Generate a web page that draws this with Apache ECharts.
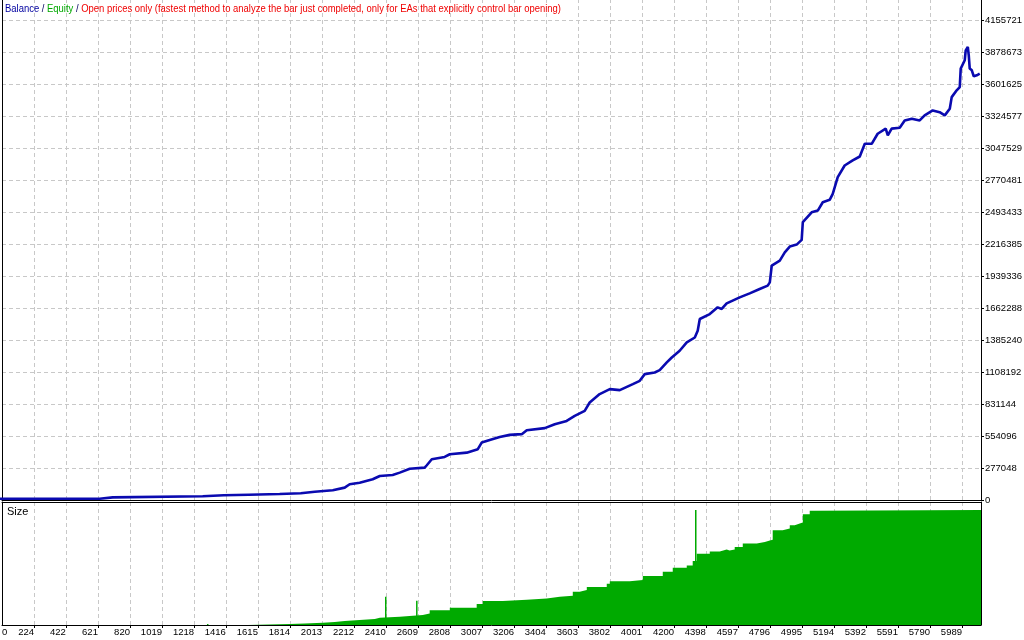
<!DOCTYPE html>
<html>
<head>
<meta charset="utf-8">
<script src="https://cdn.jsdelivr.net/npm/echarts@6/dist/echarts.min.js"></script>
<style>html,body{margin:0;padding:0;background:#fff;}#c{width:1024px;height:640px;}</style>
</head>
<body>
<div id="c"></div>
<script>
// ---- data ----
const titleParts = ['Balance', ' / ', 'Equity', ' / ', 'Open prices only (fastest method to analyze the bar just completed, only for EAs that explicitly control bar opening)'];
const panelLabel = 'Size';
const xMin = 25, xMax = 6107;
const xLeftLabel = '0';
const xTickValues = [224, 422, 621, 820, 1019, 1218, 1416, 1615, 1814, 2013, 2212, 2410, 2609, 2808, 3007, 3206, 3404, 3603, 3802, 4001, 4200, 4398, 4597, 4796, 4995, 5194, 5392, 5591, 5790, 5989];
const yTickValues = [0, 277048, 554096, 831144, 1108192, 1385240, 1662288, 1939336, 2216385, 2493433, 2770481, 3047529, 3324577, 3601625, 3878673, 4155721];
const yMax = 4337564;
const balanceX = [0, 632, 713, 1272, 1403, 1558, 1750, 1881, 1968, 2080, 2154, 2185, 2247, 2328, 2372, 2452, 2496, 2558, 2651, 2664, 2695, 2775, 2807, 2912, 2981, 3005, 3055, 3117, 3179, 3254, 3285, 3397, 3459, 3533, 3583, 3645, 3676, 3738, 3801, 3863, 3944, 3987, 4018, 4080, 4111, 4155, 4186, 4235, 4279, 4329, 4347, 4360, 4422, 4471, 4496, 4527, 4608, 4670, 4732, 4782, 4795, 4807, 4857, 4888, 4919, 4962, 4993, 5000, 5055, 5093, 5124, 5167, 5186, 5217, 5260, 5310, 5354, 5385, 5428, 5465, 5515, 5528, 5552, 5602, 5633, 5677, 5726, 5757, 5807, 5850, 5882, 5913, 5925, 5956, 5975, 5981, 6006, 6012, 6025, 6031, 6037, 6050, 6062, 6081, 6099];
const balanceY = [11000, 11000, 23000, 32000, 41000, 46000, 52000, 58000, 72000, 84000, 107000, 136000, 150000, 180000, 208000, 217000, 237000, 271000, 280000, 301000, 353000, 373000, 396000, 410000, 440000, 497000, 520000, 546000, 564000, 570000, 604000, 622000, 656000, 685000, 728000, 772000, 844000, 917000, 960000, 951000, 1003000, 1032000, 1090000, 1104000, 1125000, 1191000, 1234000, 1292000, 1364000, 1407000, 1465000, 1567000, 1610000, 1668000, 1654000, 1702000, 1754000, 1789000, 1827000, 1856000, 1884000, 2029000, 2073000, 2144000, 2194000, 2211000, 2252000, 2405000, 2491000, 2506000, 2578000, 2599000, 2651000, 2795000, 2896000, 2940000, 2974000, 3084000, 3084000, 3171000, 3215000, 3156000, 3215000, 3223000, 3286000, 3301000, 3286000, 3330000, 3373000, 3358000, 3330000, 3388000, 3488000, 3547000, 3575000, 3735000, 3807000, 3893000, 3922000, 3850000, 3735000, 3720000, 3668000, 3677000, 3691000];
const sizeX = [25, 1552, 1813, 1906, 2018, 2092, 2154, 2247, 2341, 2372, 2496, 2639, 2682, 2807, 2974, 3012, 3136, 3285, 3409, 3490, 3571, 3614, 3658, 3782, 3801, 3925, 4006, 4130, 4192, 4279, 4316, 4341, 4422, 4484, 4527, 4545, 4577, 4627, 4714, 4764, 4795, 4813, 4875, 4919, 4950, 4981, 5000, 5043, 5074, 6107];
const sizeY = [0, 0.44, 0.6, 1.0, 1.3, 1.75, 2.2, 2.6, 3.1, 3.6, 4.4, 5.0, 6.4, 7.5, 9.1, 10.4, 11.0, 11.5, 12.3, 12.7, 14.5, 15.2, 16.5, 17.9, 19.0, 19.6, 21.3, 23.2, 24.9, 25.9, 27.8, 31.0, 32.0, 32.8, 32.4, 32.8, 33.9, 35.4, 36.1, 36.8, 37.1, 41.2, 42.0, 43.4, 44.1, 44.6, 48.2, 49.7, 50, 50];
const spikeX = [1303, 2409, 2602, 4335];
const spikeY = [0.4, 12.3, 10.5, 50];
const sizeMax = 53.5;

// ---- chart ----
const FONT = "'Liberation Sans', Arial, sans-serif";
const gridLine = {show: true, lineStyle: {color: '#c8c8c8', type: [4, 3], width: 1}};
const blackLine = {show: true, onZero: false, lineStyle: {color: '#000', width: 1}};
const xLabelValues = [xMin].concat(xTickValues);
const chart = echarts.init(document.getElementById('c'), null, {renderer: 'canvas'});
const borderAxis = (extra) => Object.assign({type: 'value', min: 0, max: 1, axisLine: blackLine, axisTick: {show: false}, axisLabel: {show: false}, splitLine: {show: false}}, extra);

// title text compressed horizontally to the reference width
const titleFull = titleParts.join('');
const mctx = document.createElement('canvas').getContext('2d');
mctx.font = '11px ' + FONT;
const titleScale = 556 / mctx.measureText(titleFull).width;

const spikeData = [];
spikeX.forEach((x, i) => { spikeData.push([x, 0], [x, spikeY[i]], null); });

chart.setOption({
  animation: false,
  backgroundColor: '#fff',
  grid: [
    {left: 2, right: 43, top: -1, height: 501, outerBoundsMode: 'none', containLabel: false},
    {left: 2, right: 43, top: 502, height: 123, outerBoundsMode: 'none', containLabel: false}
  ],
  xAxis: [
    {gridIndex: 0, type: 'value', position: 'bottom', min: xMin, max: xMax,
     axisLine: blackLine, axisTick: {show: false, customValues: xTickValues},
     axisLabel: {show: false}, splitLine: gridLine},
    {gridIndex: 1, type: 'value', position: 'bottom', min: xMin, max: xMax,
     axisLine: blackLine,
     axisTick: {show: true, inside: false, length: 3, customValues: xTickValues, lineStyle: {color: '#000'}},
     axisLabel: {show: true, customValues: xLabelValues, margin: 2, color: '#000', fontSize: 9.5, fontFamily: FONT,
       align: 'right', alignMinLabel: 'left',
       formatter: function (v) { return v === xMin ? xLeftLabel : String(Math.round(v)); }},
     splitLine: gridLine},
    borderAxis({gridIndex: 1, position: 'top', min: xMin, max: xMax})
  ],
  yAxis: [
    {gridIndex: 0, type: 'value', position: 'right', min: 0, max: yMax,
     axisLine: blackLine,
     axisTick: {show: true, inside: false, length: 3, customValues: yTickValues, lineStyle: {color: '#000'}},
     axisLabel: {show: true, customValues: yTickValues, margin: 4, color: '#000', fontSize: 9.5, fontFamily: FONT,
       formatter: function (v) { return String(Math.round(v)); }},
     splitLine: gridLine},
    borderAxis({gridIndex: 0, position: 'left'}),
    borderAxis({gridIndex: 1, position: 'right', max: sizeMax}),
    borderAxis({gridIndex: 1, position: 'left'})
  ],
  graphic: [
    {type: 'text', x: 5, y: 3, scaleX: titleScale, z: 100,
     style: {
       text: '{b|' + titleParts[0] + '}{s|' + titleParts[1] + '}{e|' + titleParts[2] + '}{s|' + titleParts[3] + '}{r|' + titleParts[4] + '}',
       font: '11px ' + FONT,
       rich: {
         b: {fill: '#0000a0', fontSize: 11, fontFamily: FONT},
         s: {fill: '#000060', fontSize: 11, fontFamily: FONT},
         e: {fill: '#00a800', fontSize: 11, fontFamily: FONT},
         r: {fill: '#f00000', fontSize: 11, fontFamily: FONT}
       }
     }},
    {type: 'text', x: 7, y: 506, z: 100,
     style: {text: panelLabel, fill: '#000', font: '11px ' + FONT}}
  ],
  series: [
    {type: 'line', xAxisIndex: 1, yAxisIndex: 2, step: 'end', symbol: 'none',
     data: sizeX.map((x, i) => [x, sizeY[i]]),
     lineStyle: {width: 0, color: '#00aa00'}, areaStyle: {color: '#00aa00', opacity: 1}, clip: true},
    {type: 'line', xAxisIndex: 1, yAxisIndex: 2, symbol: 'none', connectNulls: false,
     data: spikeData, lineStyle: {width: 1.5, color: '#00aa00'}, clip: true},
    {type: 'line', xAxisIndex: 0, yAxisIndex: 0, symbol: 'none',
     data: balanceX.map((x, i) => [x, balanceY[i]]),
     lineStyle: {width: 2.6, color: '#0a0ab0'}, clip: true, z: 5}
  ]
});
</script>
</body>
</html>
